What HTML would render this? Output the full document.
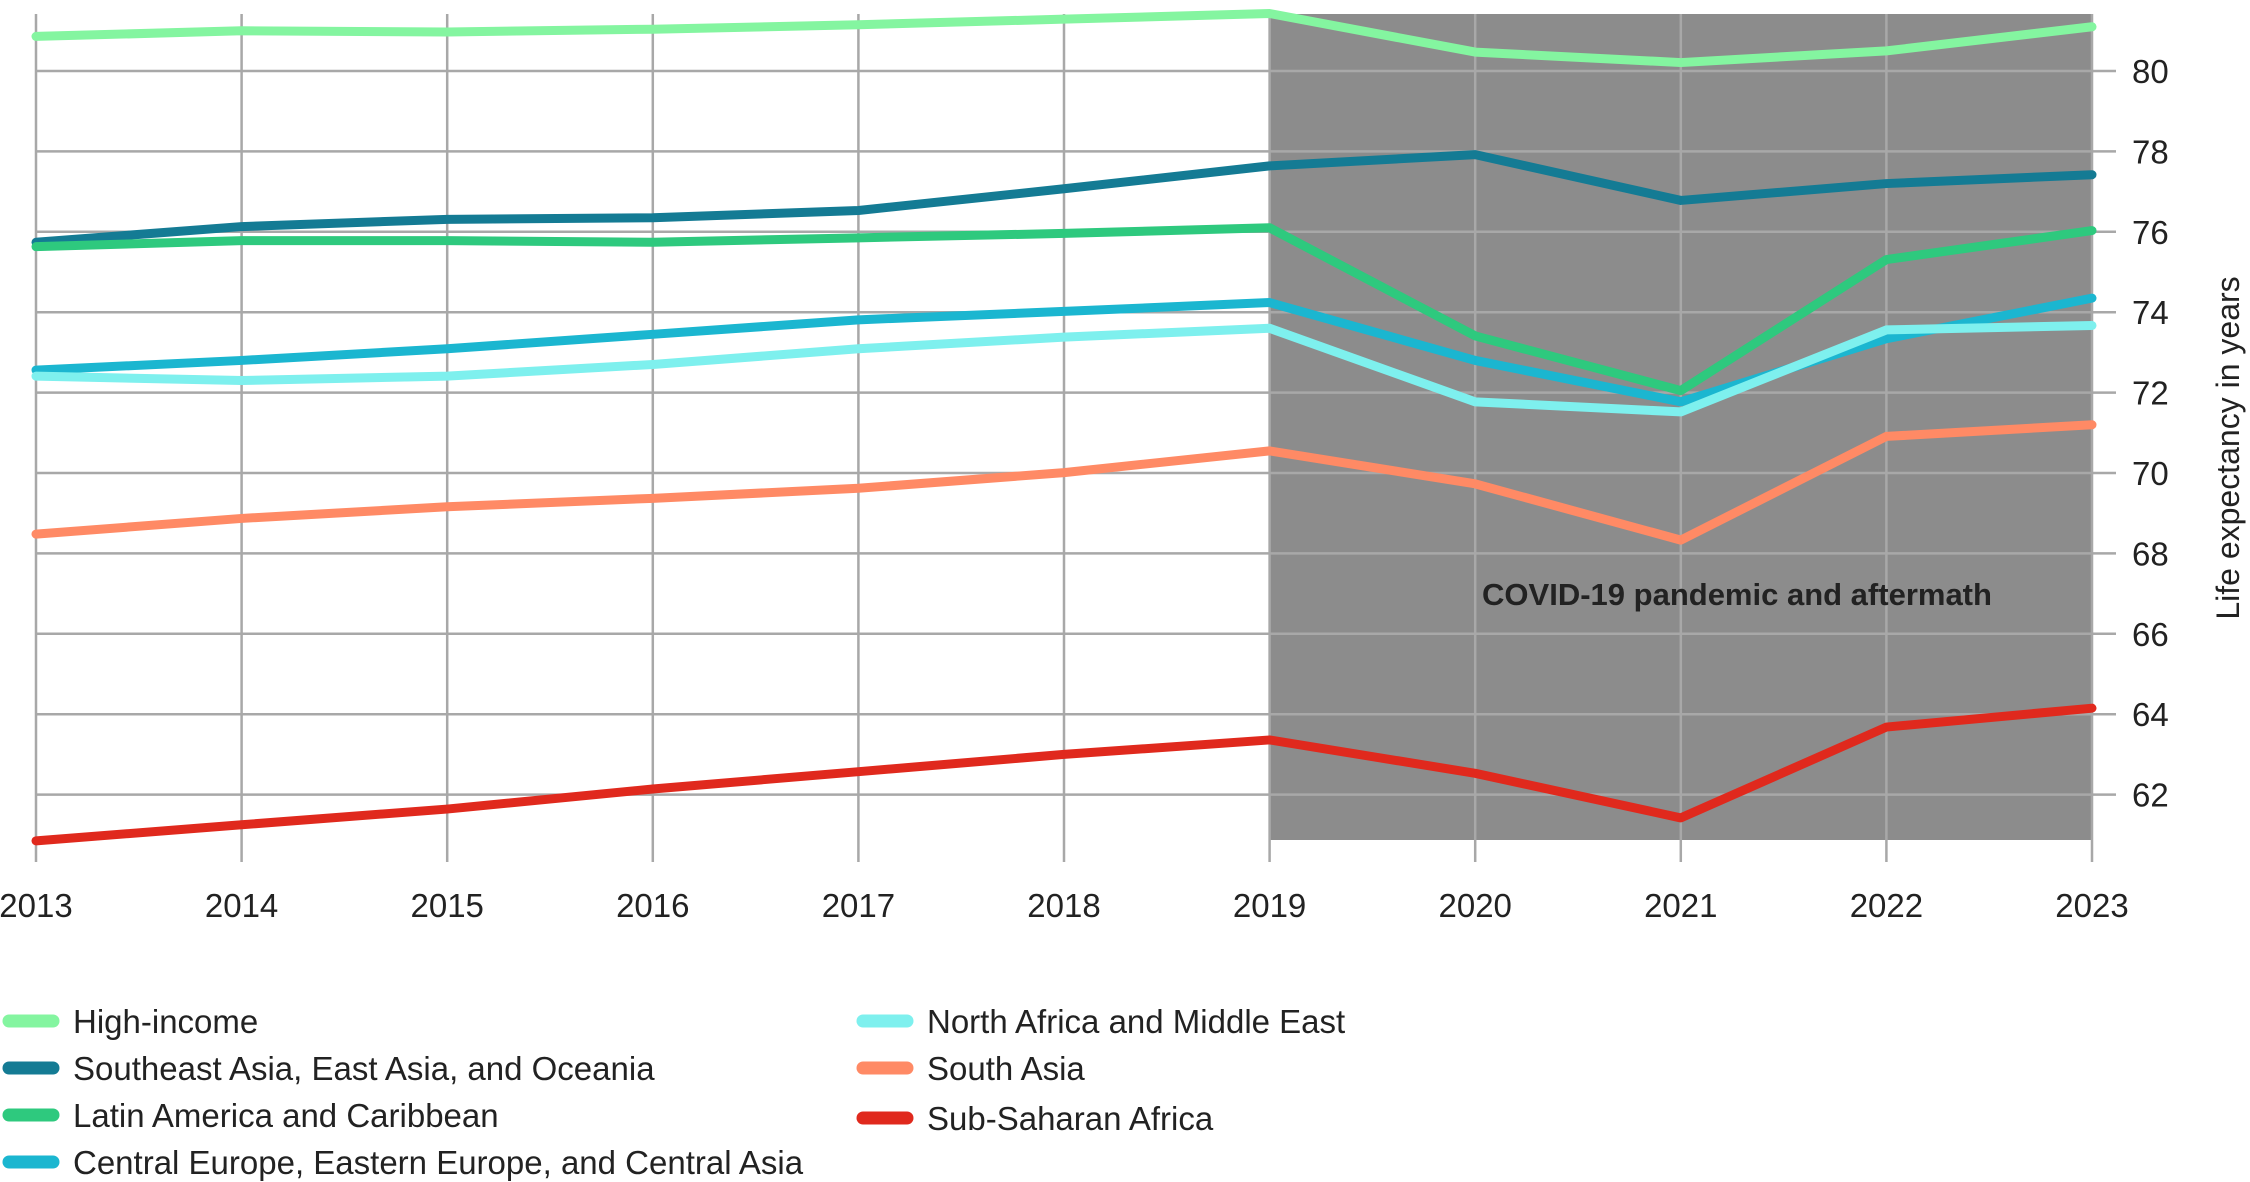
<!DOCTYPE html>
<html><head><meta charset="utf-8"><style>
html,body{margin:0;padding:0;background:#fff;width:2250px;height:1182px;overflow:hidden}
svg text{font-family:"Liberation Sans",sans-serif;fill:#222}
</style></head><body>
<svg id="chart" width="2250" height="1182" xmlns="http://www.w3.org/2000/svg"></svg>
<script>
const years=[2013,2014,2015,2016,2017,2018,2019,2020,2021,2022,2023];
const yTicks=[62,64,66,68,70,72,74,76,78,80];
const seriesNames=["High-income","Southeast Asia, East Asia, and Oceania","Latin America and Caribbean","Central Europe, Eastern Europe, and Central Asia","North Africa and Middle East","South Asia","Sub-Saharan Africa"];
const seriesColors=["#84F5A0","#147B94","#2EC97E","#1BB6D0","#7EF0EE","#FF8A65","#E0291D"];
const highIncome=[80.86,81.0,80.97,81.04,81.15,81.29,81.43,80.47,80.21,80.5,81.1];
const seAsia=[75.74,76.13,76.31,76.35,76.53,77.07,77.64,77.92,76.78,77.2,77.42];
const latinAm=[75.63,75.78,75.78,75.74,75.85,75.96,76.1,73.41,72.05,75.31,76.03];
const centralEu=[72.56,72.8,73.09,73.45,73.81,74.02,74.24,72.8,71.77,73.34,74.35];
const nAfrica=[72.41,72.3,72.41,72.7,73.09,73.38,73.6,71.77,71.52,73.56,73.67];
const southAsia=[68.48,68.87,69.16,69.37,69.62,70.01,70.55,69.73,68.33,70.91,71.2];
const subSaharan=[60.85,61.25,61.64,62.14,62.57,63.0,63.36,62.53,61.42,63.68,64.15];
const seriesValues=[highIncome,seAsia,latinAm,centralEu,nAfrica,southAsia,subSaharan];
const shadeStart=2019, shadeEnd=2023;

const NS="http://www.w3.org/2000/svg";
const svg=document.getElementById('chart');
const x=v=>36+(v-2013)*205.6;
const y=v=>71+(80-v)*40.2;
function mk(tag,attrs,parent){const e=document.createElementNS(NS,tag);for(const k in attrs)e.setAttribute(k,attrs[k]);(parent||svg).appendChild(e);return e;}

const shade=mk('rect',{x:x(shadeStart),y:14,width:x(shadeEnd)-x(shadeStart),height:840-14,fill:'#8c8c8c'});



yTicks.forEach(t=>{
  const g=mk('line',{x1:x(2013),x2:2116,y1:y(t),y2:y(t),stroke:'#a8a8a8','stroke-width':2.5});
  
  
  const l=mk('text',{x:2132,y:y(t)+12,'font-size':33});
  l.textContent=t;
  
  
});
years.forEach(yr=>{
  const g=mk('line',{x1:x(yr),x2:x(yr),y1:14,y2:862,stroke:'#a8a8a8','stroke-width':2.5});
  
  
  const l=mk('text',{x:x(yr),y:917,'font-size':33,'text-anchor':'middle'});
  l.textContent=yr;
  
  
});

const ann=mk('text',{x:1737,y:605,'font-size':31,'font-weight':'bold','text-anchor':'middle',fill:'#111'});
ann.textContent='COVID-19 pandemic and aftermath';



const yt=mk('text',{x:0,y:0,'font-size':32,'text-anchor':'middle',transform:'translate(2239,448) rotate(-90)'});
yt.textContent='Life expectancy in years';



seriesValues.forEach((vals,i)=>{
  const p=mk('polyline',{points:vals.map((v,j)=>x(years[j])+','+y(v)).join(' '),fill:'none',stroke:seriesColors[i],'stroke-width':9,'stroke-linejoin':'round','stroke-linecap':'round'});
  
  
});

const legPos=[[3,1021],[3,1068],[3,1115],[3,1162],[857,1021],[857,1068],[857,1118]];
seriesNames.forEach((n,i)=>{
  const [lx,ly]=legPos[i];
  const s=mk('line',{x1:lx+6,x2:lx+50,y1:ly,y2:ly,stroke:seriesColors[i],'stroke-width':13,'stroke-linecap':'round'});
  
  
  const t=mk('text',{x:lx+70,y:ly+12,'font-size':33});
  t.textContent=n;
  
  
});
</script>
</body></html>
